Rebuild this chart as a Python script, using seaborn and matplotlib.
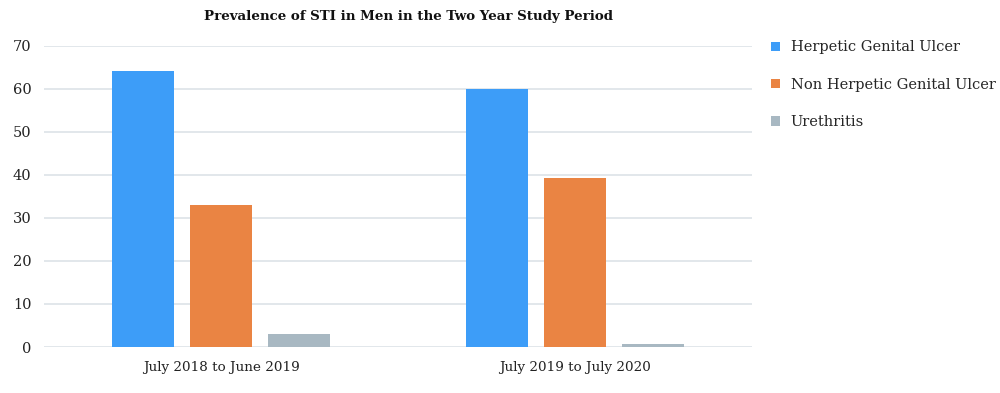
import matplotlib
matplotlib.use("Agg")
import matplotlib.pyplot as plt
from matplotlib.patches import Patch
import seaborn as sns
import pandas as pd

# data
periods = ["July 2018 to June 2019", "July 2019 to July 2020"]
conditions = ["Herpetic Genital Ulcer", "Non Herpetic Genital Ulcer", "Urethritis"]
herpetic = [64, 60]
non_herpetic = [33, 39.2]
urethritis = [3, 0.8]

colors = ["#3d9df8", "#ea8443", "#a8b8c2"]

df = pd.DataFrame({
    "period": periods * 3,
    "condition": [conditions[0]] * 2 + [conditions[1]] * 2 + [conditions[2]] * 2,
    "value": herpetic + non_herpetic + urethritis,
})

sns.set_theme(style="white")
plt.rcParams['font.family'] = ['DejaVu Serif']

fig = plt.figure(figsize=(10, 3.93), dpi=100)
ax = fig.add_axes([0.044, 0.117, 0.708, 0.767])

sns.barplot(data=df, x="period", y="value", hue="condition", order=periods,
            hue_order=conditions, palette=colors, width=0.66, gap=0.2,
            saturation=1, legend=False, linewidth=0, ax=ax)

ax.set_xlim(-0.5, 1.5)
ax.set_ylim(0, 70)
ax.set_yticks(range(0, 71, 10))
ax.yaxis.grid(True, color="#dde3e8", linewidth=1.2)
ax.set_axisbelow(True)
for s in ax.spines.values():
    s.set_visible(False)
ax.set_xlabel("")
ax.set_ylabel("")
ax.tick_params(axis="y", length=0, pad=9, labelsize=10.5, colors="#222222")
ax.tick_params(axis="x", length=0, pad=10, labelsize=9.7, colors="#222222")

fig.text(0.408, 0.958, "Prevalence of STI in Men in the Two Year Study Period",
         ha="center", va="center", fontsize=9.6, fontweight="bold", color="#111111")

handles = [Patch(facecolor=c, edgecolor="none") for c in colors]
fig.legend(handles, conditions, loc="upper left", bbox_to_anchor=(0.771, 0.897),
           frameon=False, fontsize=10.5, handlelength=0.6, handleheight=0.6,
           handletextpad=0.75, labelspacing=1.6, borderaxespad=0, borderpad=0)

fig.savefig("out.png", dpi=100)
